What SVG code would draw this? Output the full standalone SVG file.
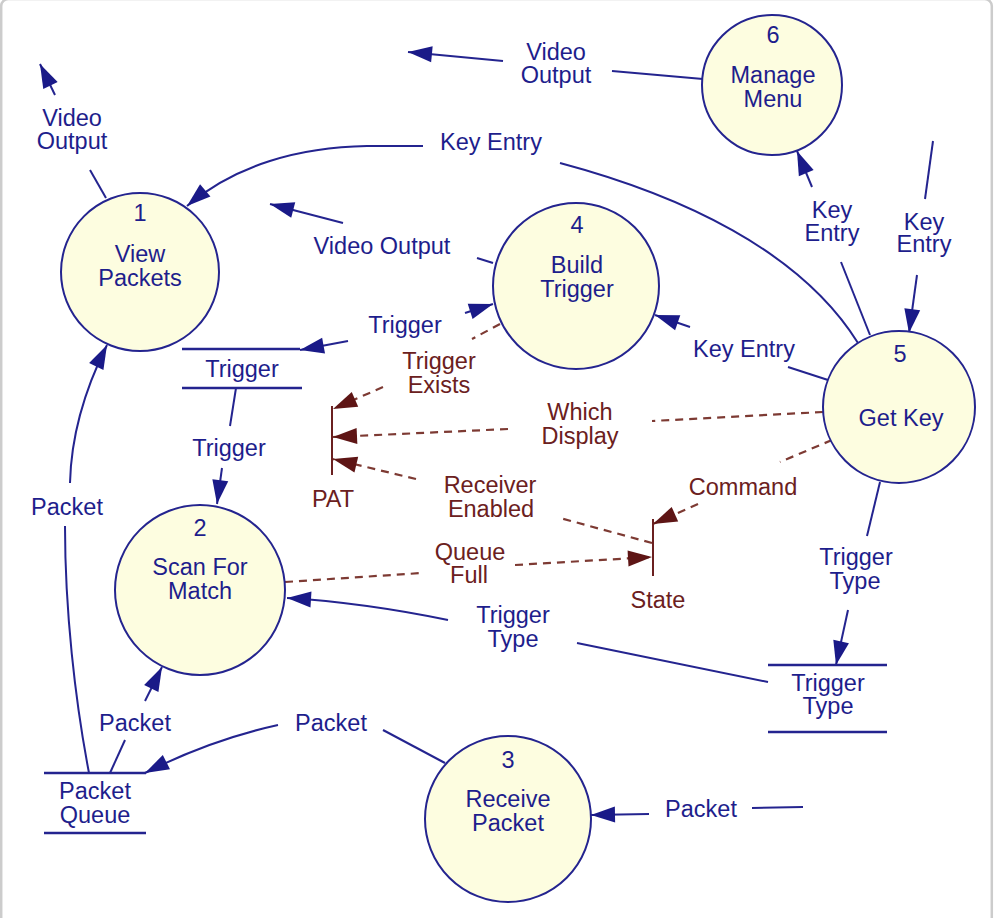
<svg xmlns="http://www.w3.org/2000/svg" width="994" height="918" viewBox="0 0 994 918">
<style>
.node circle{fill:#fdfde0;stroke:#24248f;stroke-width:2}
text{font-family:"Liberation Sans",Arial,sans-serif;font-size:23.5px;text-anchor:middle}
.b{fill:#1e1e8c}
.r{fill:#6b2020}
.fl{fill:none;stroke:#24248f;stroke-width:2}
.dl{fill:none;stroke:#7d3a33;stroke-width:2.2;stroke-dasharray:8 6}
.st{fill:none;stroke:#24248f;stroke-width:2.4}
.brbar{fill:none;stroke:#6b2020;stroke-width:2}
</style>
<defs>
<marker id="ab" markerWidth="26" markerHeight="18" refX="24" refY="8" orient="auto" markerUnits="userSpaceOnUse" overflow="visible"><path d="M0,0 L24,8 L0,16 z" fill="#1a1a88"/></marker>
<marker id="ar" markerWidth="26" markerHeight="18" refX="24" refY="8" orient="auto" markerUnits="userSpaceOnUse" overflow="visible"><path d="M0,0 L24,8 L0,16 z" fill="#5e1515"/></marker>
</defs>
<rect x="1.2" y="-1" width="990.6" height="940" rx="7" fill="#fff" stroke="#cccccc" stroke-width="2.5"/>

<g id="connectors">
<!-- blue flows -->
<path class="fl" d="M106,198 L90,170"/>
<path class="fl" d="M55,95 L40,64" marker-end="url(#ab)"/>
<path class="fl" d="M703,79 L612,71"/>
<path class="fl" d="M503,61 L408,52" marker-end="url(#ab)"/>
<path class="fl" d="M858,343 C800,250 680,195 560,163"/>
<path class="fl" d="M423,146 L367,146 C300,147 235,165 187,206" marker-end="url(#ab)"/>
<path class="fl" d="M493,263 L477,258"/>
<path class="fl" d="M343,223 L270,204" marker-end="url(#ab)"/>
<path class="fl" d="M870,335 L841,262"/>
<path class="fl" d="M812,187 L797,151" marker-end="url(#ab)"/>
<path class="fl" d="M933,141 L925,199"/>
<path class="fl" d="M917,275 L909,333" marker-end="url(#ab)"/>
<path class="fl" d="M828,380 L788,367"/>
<path class="fl" d="M690,327 L655,315" marker-end="url(#ab)"/>
<path class="fl" d="M348,341 L300,350" marker-end="url(#ab)"/>
<path class="fl" d="M465,313 L493,304" marker-end="url(#ab)"/>
<path class="fl" d="M236,388 L230,426"/>
<path class="fl" d="M222,468 L217,504" marker-end="url(#ab)"/>
<path class="fl" d="M89,773 C75,700 65,610 65,526"/>
<path class="fl" d="M70,483 C71,440 82,395 107,345" marker-end="url(#ab)"/>
<path class="fl" d="M110,773 L125,740"/>
<path class="fl" d="M145,701 L162,667" marker-end="url(#ab)"/>
<path class="fl" d="M445,763 L383,730"/>
<path class="fl" d="M278,725 Q210,740 145,773" marker-end="url(#ab)"/>
<path class="fl" d="M803,807 L752,808"/>
<path class="fl" d="M649,814 L591,815" marker-end="url(#ab)"/>
<path class="fl" d="M880,482 L867,536"/>
<path class="fl" d="M848,610 L836,665" marker-end="url(#ab)"/>
<path class="fl" d="M768,682 L577,643"/>
<path class="fl" d="M448,620 C380,606 320,600 287,598" marker-end="url(#ab)"/>
<!-- control flows -->
<path class="dl" d="M500,324 L472,339"/>
<path class="dl" d="M383,387 L333,409" marker-end="url(#ar)"/>
<path class="dl" d="M823,412 L652,421"/>
<path class="dl" d="M508,429 L333,437" marker-end="url(#ar)"/>
<path class="dl" d="M652,543 L560,518"/>
<path class="dl" d="M416,479 L333,459" marker-end="url(#ar)"/>
<path class="dl" d="M285,582 L422,573"/>
<path class="dl" d="M515,565 L652,557" marker-end="url(#ar)"/>
<path class="dl" d="M832,440 L780,462"/>
<path class="dl" d="M698,504 L653,524" marker-end="url(#ar)"/>
</g>

<g id="labels">
<text class="b" x="72" y="126">Video</text><text class="b" x="72" y="149">Output</text>
<text class="b" x="556" y="60">Video</text><text class="b" x="556" y="83">Output</text>
<text class="b" x="491" y="150">Key Entry</text>
<text class="b" x="382" y="254">Video Output</text>
<text class="b" x="832" y="218">Key</text><text class="b" x="832" y="241">Entry</text>
<text class="b" x="924" y="230">Key</text><text class="b" x="924" y="252">Entry</text>
<text class="b" x="744" y="357">Key Entry</text>
<text class="b" x="405" y="333">Trigger</text>
<text class="b" x="229" y="456">Trigger</text>
<text class="b" x="67" y="515">Packet</text>
<text class="b" x="135" y="731">Packet</text>
<text class="b" x="331" y="731">Packet</text>
<text class="b" x="701" y="817">Packet</text>
<text class="b" x="513" y="623">Trigger</text><text class="b" x="513" y="647">Type</text>
<text class="b" x="856" y="565">Trigger</text><text class="b" x="855" y="589">Type</text>
<text class="r" x="439" y="369">Trigger</text><text class="r" x="439" y="393">Exists</text>
<text class="r" x="580" y="420">Which</text><text class="r" x="580" y="444">Display</text>
<text class="r" x="490" y="493">Receiver</text><text class="r" x="491" y="517">Enabled</text>
<text class="r" x="470" y="560">Queue</text><text class="r" x="469" y="583">Full</text>
<text class="r" x="743" y="495">Command</text>
</g>

<g id="store-trigger">
<path class="st" d="M182,349 L300,349 M182,388 L302,388"/>
<text class="b" x="242" y="377">Trigger</text>
</g>
<g id="store-packet-queue">
<path class="st" d="M44,773 L146,773 M44,833 L146,833"/>
<text class="b" x="95" y="799">Packet</text><text class="b" x="95" y="823">Queue</text>
</g>
<g id="store-trigger-type">
<path class="st" d="M768,665 L887,665 M768,732 L887,732"/>
<text class="b" x="828" y="691">Trigger</text><text class="b" x="828" y="714">Type</text>
</g>
<g id="pat">
<path class="brbar" d="M332,406 L332,475"/>
<text class="r" x="333" y="507">PAT</text>
</g>
<g id="state">
<path class="brbar" d="M653,519 L653,576"/>
<text class="r" x="658" y="608">State</text>
</g>

<g id="node1" class="node">
<circle cx="140" cy="272" r="79"/>
<text class="b" x="140" y="221">1</text><text class="b" x="140" y="262">View</text><text class="b" x="140" y="286">Packets</text>
</g>
<g id="node2" class="node">
<circle cx="200" cy="590" r="85"/>
<text class="b" x="200" y="536">2</text><text class="b" x="200" y="575">Scan For</text><text class="b" x="200" y="599">Match</text>
</g>
<g id="node3" class="node">
<circle cx="508" cy="819" r="83"/>
<text class="b" x="508" y="768">3</text><text class="b" x="508" y="807">Receive</text><text class="b" x="508" y="831">Packet</text>
</g>
<g id="node4" class="node">
<circle cx="576" cy="286" r="83"/>
<text class="b" x="577" y="233">4</text><text class="b" x="577" y="273">Build</text><text class="b" x="577" y="297">Trigger</text>
</g>
<g id="node5" class="node">
<circle cx="899" cy="407" r="76"/>
<text class="b" x="900" y="362">5</text><text class="b" x="901" y="426">Get Key</text>
</g>
<g id="node6" class="node">
<circle cx="772" cy="85" r="70"/>
<text class="b" x="773" y="43">6</text><text class="b" x="773" y="83">Manage</text><text class="b" x="773" y="107">Menu</text>
</g>
</svg>
